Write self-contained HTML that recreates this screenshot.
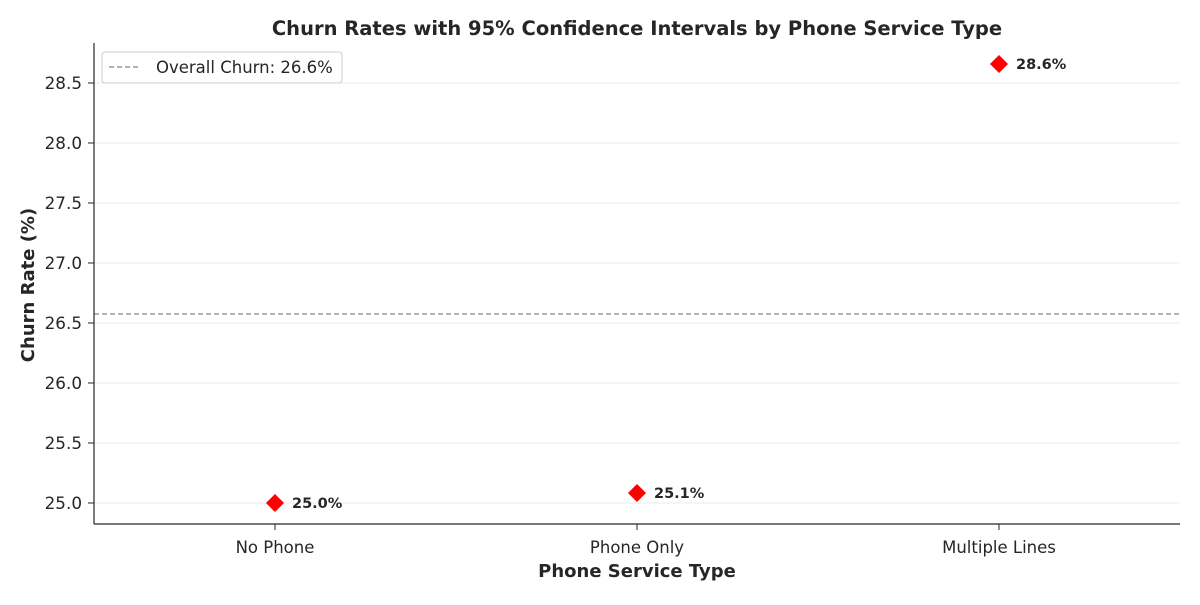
<!DOCTYPE html>
<html><head><meta charset="utf-8"><style>
body{margin:0;background:#fff;font-family:"Liberation Sans","DejaVu Sans",sans-serif;}
</style></head><body>
<svg id="chart" width="1200" height="600" xmlns="http://www.w3.org/2000/svg" font-family="DejaVu Sans, Liberation Sans, sans-serif">
<text x="637" y="35" text-anchor="middle" font-size="19.5" font-weight="bold" fill="#262626">Churn Rates with 95% Confidence Intervals by Phone Service Type</text>
<g id="grid"></g><g id="yticks"></g><g id="xticks"></g>
<g id="refline"></g><g id="points"></g>
<line x1="94" y1="43" x2="94" y2="524" stroke="#262626" stroke-width="1.2"/>
<line x1="94" y1="524" x2="1180" y2="524" stroke="#262626" stroke-width="1.2"/>
<text x="637" y="577" text-anchor="middle" font-size="18" font-weight="bold" fill="#262626">Phone Service Type</text>
<text transform="translate(34,285) rotate(-90)" text-anchor="middle" font-size="18" font-weight="bold" fill="#262626">Churn Rate (%)</text>
<g>
<rect x="102" y="52" width="240" height="31" rx="3" fill="#fff" stroke="#ccc"/>
<line x1="109" y1="67" x2="139" y2="67" stroke="#999" stroke-width="1.5" stroke-dasharray="5,3"/>
<text x="156" y="73" font-size="16.5" fill="#262626">Overall Churn: 26.6%</text>
</g>
</svg>
<script>
const categories=["No Phone","Phone Only","Multiple Lines"];
const rates=[25.0,25.083,28.658];
const labels=["25.0%","25.1%","28.6%"];
const overall=[26.575];
const yTicks=[25.0,25.5,26.0,26.5,27.0,27.5,28.0,28.5];
const NS="http://www.w3.org/2000/svg";
const y=v=>503-(v-25.0)*120;
const x=i=>94+(i+0.5)*362;
function mk(t,a,p){const e=document.createElementNS(NS,t);for(const k in a)e.setAttribute(k,a[k]);document.getElementById(p).appendChild(e);return e;}
yTicks.forEach(v=>{
 const g=mk("line",{x1:94,x2:1180,y1:y(v),y2:y(v),stroke:"#ebebeb","stroke-width":1},"grid");
 
 
 const tk=mk("line",{x1:88,x2:94,y1:y(v),y2:y(v),stroke:"#262626"},"yticks");
 
 
 const t=mk("text",{x:82,y:y(v)+6,"text-anchor":"end","font-size":16.8,fill:"#262626"},"yticks");
 t.textContent=v.toFixed(1);
 
 
});
categories.forEach((c,i)=>{
 const tk=mk("line",{x1:x(i),x2:x(i),y1:524,y2:530,stroke:"#262626"},"xticks");
 
 
 const t=mk("text",{x:x(i),y:553,"text-anchor":"middle","font-size":16.5,fill:"#262626"},"xticks");
 t.textContent=c;
 
 
});
const rl=mk("line",{x1:94,x2:1180,y1:y(overall[0]),y2:y(overall[0]),stroke:"#999","stroke-width":1.5,"stroke-dasharray":"5,3"},"refline");


rates.forEach((r,i)=>{
 const cx=x(i),cy=y(r);
 const m=mk("polygon",{points:`${cx},${cy-9} ${cx+9},${cy} ${cx},${cy+9} ${cx-9},${cy}`,fill:"#ff0000"},"points");
 
 
 const t=mk("text",{x:cx+17,y:cy+5,"font-size":14.5,"font-weight":"bold",fill:"#262626"},"points");
 t.textContent=labels[i];
 
 
});
</script>
</body></html>
